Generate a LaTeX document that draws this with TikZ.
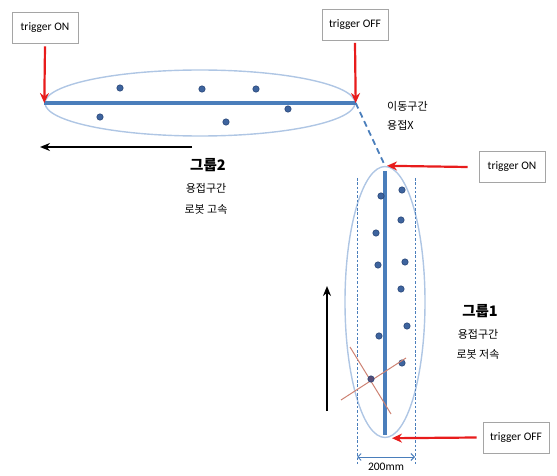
\documentclass[tikz,border=0pt]{standalone}
\usepackage{fontspec}
\setmainfont{Carlito}
\newfontfamily\kr{Noto Sans CJK KR}
\usetikzlibrary{arrows.meta,shapes.geometric}
\definecolor{lineblue}{RGB}{74,126,187}
\definecolor{ellblue}{RGB}{175,198,228}
\definecolor{dotfill}{RGB}{62,100,158}
\definecolor{dotedge}{RGB}{40,70,120}
\definecolor{trigred}{RGB}{232,28,28}
\definecolor{boxgray}{RGB}{165,165,165}
\definecolor{crossc}{RGB}{205,130,115}
\definecolor{crossdot}{RGB}{88,76,118}
\tikzset{
  trigbox/.style={draw=boxgray, line width=0.7pt, fill=white, minimum width=66pt, minimum height=31pt, inner sep=0pt, font=\fontsize{11.5}{13}\selectfont},
  grp/.style={draw=ellblue, line width=1.4pt, ellipse, inner sep=0pt},
  path/.style={draw=lineblue, line width=3.2pt},
  redarrow/.style={draw=trigred, line width=2.2pt, -{Stealth[length=10pt,width=9pt]}},
  blackarrow/.style={draw=black, line width=2.2pt, -{Stealth[length=10pt,width=8pt]}},
  dotm/.style={fill=dotfill, draw=dotedge, line width=0.6pt},
  krtext/.style={font=\kr\fontsize{11}{13}\selectfont, inner sep=0pt},
  krtitle/.style={font=\kr\bfseries\fontsize{14.5}{17}\selectfont, inner sep=0pt},
  guide/.style={draw=lineblue, line width=0.9pt, dash pattern=on 2.5pt off 1.8pt},
}
\begin{document}
\begin{tikzpicture}[x=1pt,y=-1pt]
\useasboundingbox (0,0) rectangle (557,476);

% group 2 ellipse and path
\node[grp, minimum width=310pt, minimum height=66pt] (g2) at (200,103) {};
\path[path] (g2.west) -- (g2.east);
% group 1 ellipse and path
\node[grp, minimum width=80pt, minimum height=271pt] (g1) at (385,302) {};
\coordinate (g1top) at ([yshift=-5pt]g1.north);
\coordinate (g1bot) at ([yshift=3pt]g1.south);
\path[path] (g1top) -- (g1bot);

% transfer (dashed)
\draw[lineblue, line width=1.8pt, dash pattern=on 6pt off 4pt] (g2.east) -- (g1.north);

% guide lines 200mm
\coordinate (gl1) at (357,178);
\coordinate (gl2) at (357,466);
\coordinate (gr1) at (415,178);
\coordinate (gr2) at (415,466);
\path[guide] (gl1) -- (gl2);
\path[guide] (gr1) -- (gr2);
\coordinate (dl) at (357,457);
\coordinate (dr) at (415,457);
\draw[lineblue, line width=0.9pt, {Straight Barb[length=3.5pt,width=7pt]}-{Straight Barb[length=3.5pt,width=7pt]}] (dl) -- (dr);
\node[font=\fontsize{11.5}{13}\selectfont, inner sep=0pt] (dim) at (386,467) {200mm};

% dots group 2
\foreach \p in {(120,88),(100,117),(202,89),(256,89),(226,122),(288,109)}
  \path[dotm] \p circle (3.2pt);
% dots group 1
\foreach \p in {(381,196),(402,190),(401,220),(376,233),(378,265),(405,262),(401,289),(407,326),(379,336),(402,363)}
  \path[dotm] \p circle (3.2pt);

% cross mark
\coordinate (c1a) at (350,347);
\coordinate (c1b) at (391,414);
\coordinate (c2a) at (341,400);
\coordinate (c2b) at (406,358);
\draw[crossc, line width=1pt] (c1a) -- (c1b);
\draw[crossc, line width=1pt] (c2a) -- (c2b);
\path[fill=crossdot, draw=dotedge, line width=0.6pt] (371,379) circle (3.2pt);

% trigger boxes
\node[trigbox] (on1) at (45,27.5) {trigger ON};
\node[trigbox] (off1) at (355,25) {trigger OFF};
\node[trigbox] (on2) at (512,167) {trigger ON};
\node[trigbox] (off2) at (516,437.5) {trigger OFF};

\draw[redarrow] ([yshift=-3pt]on1.south) -- (g2.west);
\draw[redarrow] ([yshift=-2pt]off1.south) -- (g2.east);
\draw[redarrow] ([xshift=-11pt]on2.west) -- ([xshift=2pt]g1.north);
\draw[redarrow] ([xshift=-6pt]off2.west) -- ([xshift=7pt]g1.south);

% direction arrows
\coordinate (a2s) at (192,147);
\coordinate (a2e) at (40,147);
\draw[blackarrow] (a2s) -- (a2e);
\coordinate (a1s) at (327,411);
\coordinate (a1e) at (327,286);
\draw[blackarrow] (a1s) -- (a1e);

% texts
\node[krtext, anchor=west] (mv1) at (387,106) {이동구간};
\node[krtext, anchor=west] (mv2) at (387,125) {용접X};
\node[krtitle] (t2) at (208,165) {그룹2};
\node[krtext] (t2a) at (206,188) {용접구간};
\node[krtext] (t2b) at (206,209) {로봇 고속};
\node[krtitle] (t1) at (480,311) {그룹1};
\node[krtext] (t1a) at (478,334) {용접구간};
\node[krtext] (t1b) at (478,354) {로봇 저속};
\end{tikzpicture}
\end{document}
